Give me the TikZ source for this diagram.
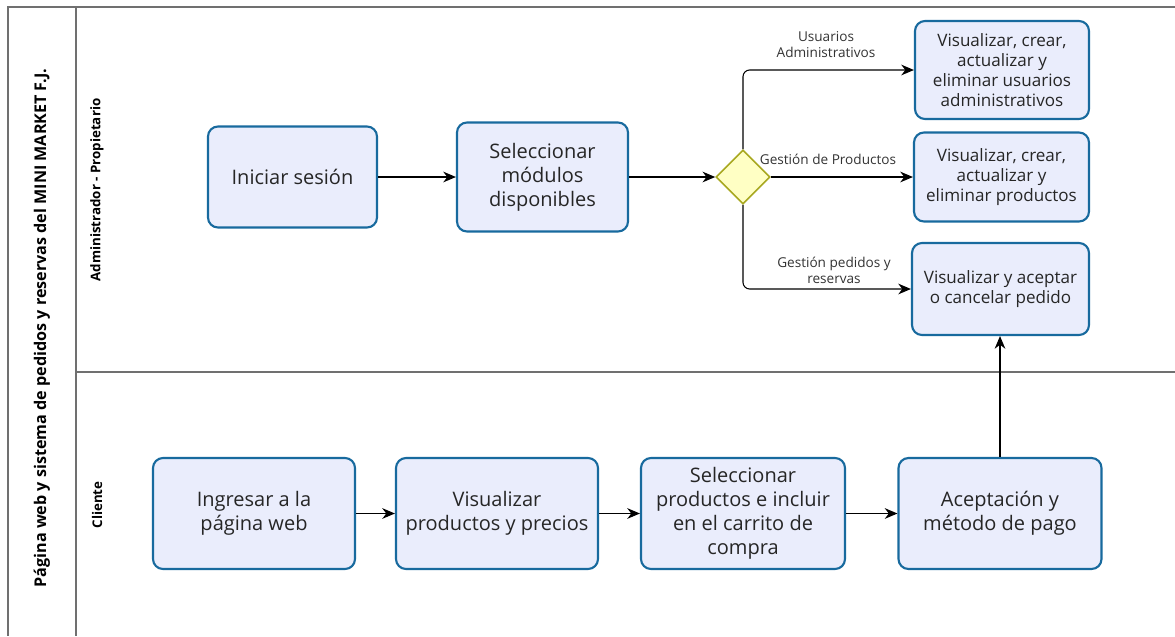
\documentclass[tikz,border=0pt]{standalone}
\usepackage{fontspec}
\setmainfont{Open Sans}
\usetikzlibrary{shapes.geometric, arrows.meta}

\definecolor{taskfill}{RGB}{234,237,252}
\definecolor{taskline}{RGB}{24,106,158}
\definecolor{gatefill}{RGB}{255,255,196}
\definecolor{gateline}{RGB}{168,168,32}
\definecolor{poolline}{RGB}{112,112,112}

\begin{document}
\begin{tikzpicture}[x=0.75pt, y=-0.75pt, >={Stealth[length=9.5pt, width=8pt, inset=3pt]},
    task/.style={draw=taskline, fill=taskfill, line width=1.6pt, rounded corners=7.5pt, align=center, inner sep=0pt, text=black!85},
    bigtask/.style={task, font=\fontsize{15}{18}\selectfont},
    smalltask/.style={task, font=\fontsize{12.8}{15}\selectfont},
    gate/.style={diamond, draw=gateline, fill=gatefill, line width=1.2pt, minimum size=40.5pt, inner sep=0pt},
    flow/.style={->, line width=0.8pt},
    flowlabel/.style={font=\fontsize{10.2}{12}\selectfont, text=black!80, align=center},
    pool/.style={draw=poolline, line width=1.1pt},
    lanelabel/.style={rotate=90, font=\fontsize{10}{12}\selectfont\bfseries}]

    \useasboundingbox (0,0) rectangle (1175,636);

    % Pool and lanes
    \draw[pool] (1175,7) -- (8,7) -- (8,636);
    \draw[pool] (76,7) -- (76,636);
    \draw[pool] (76,372) -- (1175,372);
    \node[rotate=90, font=\fontsize{12.1}{14}\selectfont\bfseries] (poolname) at (42,328) {Página web y sistema de pedidos y reservas del MINI MARKET F.J.};
    \node[lanelabel] (adminlane) at (97,190) {Administrador - Propietario};
    \node[lanelabel] (clientlane) at (97,505) {Cliente};

    % Administrador
    \node[bigtask, minimum width=126.75pt, minimum height=75.75pt] (login) at (292.5,177) {Iniciar sesión};
    \node[bigtask, minimum width=128.25pt, minimum height=81.75pt] (modules) at (542.5,177) {Seleccionar\\ módulos\\ disponibles};
    \node[gate] (choice) at (743,177) {};

    \node[smalltask, minimum width=130.5pt, minimum height=73.5pt] (users) at (1002,70) {Visualizar, crear,\\ actualizar y\\ eliminar usuarios\\ administrativos};
    \node[smalltask, minimum width=131.25pt, minimum height=66.75pt] (products) at (1001.5,177) {Visualizar, crear,\\ actualizar y\\ eliminar productos};
    \node[smalltask, minimum width=132.75pt, minimum height=69pt] (orders) at (1000.5,289) {Visualizar y aceptar\\ o cancelar pedido};

    \draw[flow] (login) -- (modules);
    \draw[flow] (modules) -- (choice);
    \draw[flow, rounded corners=5pt] (choice.north) |- (users);
    \draw[flow] (choice) -- (products);
    \draw[flow, rounded corners=5pt] (choice.south) |- (orders);

    % Branch labels
    \node[flowlabel] (userslabel) at (826,45) {Usuarios\\ Administrativos};
    \node[flowlabel] (productslabel) at (828,159) {Gestión de Productos};
    \node[flowlabel] (orderslabel) at (834,270) {Gestión pedidos y\\ reservas};

    % Cliente
    \node[bigtask, minimum width=151.5pt, minimum height=83.25pt] (web) at (254,513.5) {Ingresar a la\\ página web};
    \node[bigtask, minimum width=151.5pt, minimum height=83.25pt] (catalog) at (497,513.5) {Visualizar\\ productos y precios};
    \node[bigtask, minimum width=153pt, minimum height=83.25pt] (cart) at (743,513.5) {Seleccionar\\ productos e incluir\\ en el carrito de\\ compra};
    \node[bigtask, minimum width=152.25pt, minimum height=83.25pt] (payment) at (1000,513.5) {Aceptación y\\ método de pago};

    \draw[flow] (web) -- (catalog);
    \draw[flow] (catalog) -- (cart);
    \draw[flow] (cart) -- (payment);
    \draw[flow] (payment.north) -- (payment.north |- orders.south);

\end{tikzpicture}
\end{document}
